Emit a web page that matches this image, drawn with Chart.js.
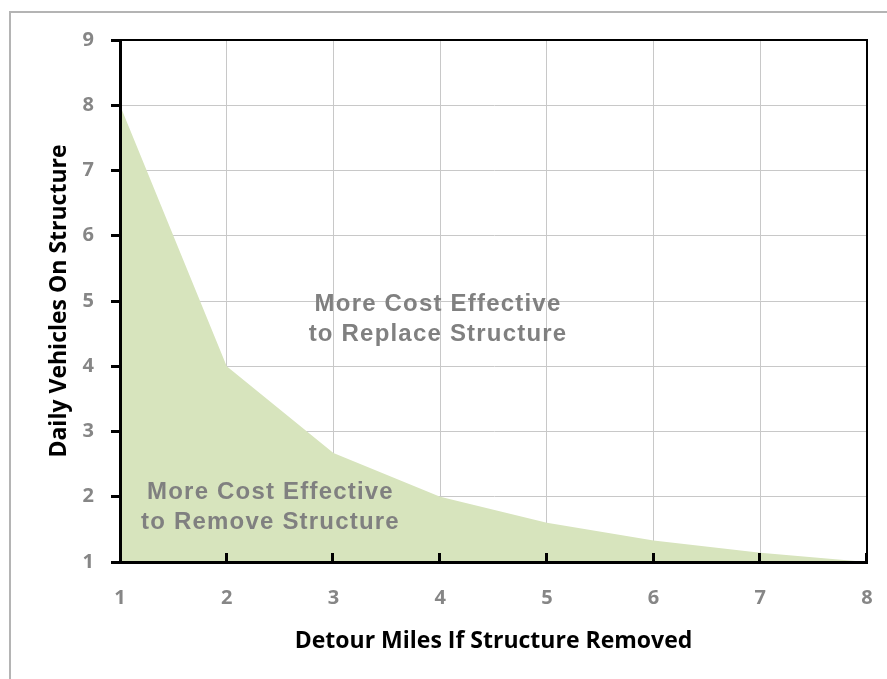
<!DOCTYPE html>
<html lang="en">
<head>
  <meta charset="UTF-8">
  <title>Detour Miles vs Daily Vehicles</title>
  <script src="https://cdn.jsdelivr.net/npm/chart.js"></script>
  <style>
    html, body {
      margin: 0;
      padding: 0;
      background: #fff;
    }
    .frame {
      position: absolute;
      left: 9px;
      top: 11px;
      width: 1000px;
      height: 800px;
      border-left: 2px solid #b4b4b4;
      border-top: 2px solid #b4b4b4;
    }
    .chart-box {
      position: relative;
      width: 887px;
      height: 679px;
      overflow: hidden;
    }
    #breakEven {
      position: absolute;
      left: 0;
      top: 0;
    }
  </style>
</head>
<body>
  <div class="chart-box">
    <div class="frame"></div>
    <canvas id="breakEven" width="887" height="679"></canvas>
  </div>

  <script>
    // detour distance (miles) and the break-even daily traffic
    const detourMiles = [1, 2, 3, 4, 5, 6, 7, 8];
    const dailyVehicles = [8, 4, 2.67, 2, 1.6, 1.33, 1.14, 1];

    const xTicks = [1, 2, 3, 4, 5, 6, 7, 8];
    const yTicks = [1, 2, 3, 4, 5, 6, 7, 8, 9];

    const xTitle = 'Detour Miles If Structure Removed';
    const yTitle = 'Daily Vehicles On Structure';

    const replaceText = ['More Cost Effective', 'to Replace Structure'];
    const removeText = ['More Cost Effective', 'to Remove Structure'];

    // where the two region labels sit, in axis units
    const notes = [
      { lines: replaceText, x: 3.98, y: 4.72 },
      { lines: removeText, x: 2.41, y: 1.83 }
    ];

    const tickGray = '#868686';
    const tickFont = { family: '"Open Sans"', size: 20, weight: 'bold' };

    // short tick marks pointing up into the plot, drawn over the fill
    const innerTicks = {
      id: 'innerTicks',
      afterDatasetsDraw(chart) {
        const { ctx, chartArea, scales } = chart;
        ctx.save();
        ctx.strokeStyle = '#000';
        ctx.lineWidth = 3;
        xTicks.slice(1).forEach(v => {
          const px = Math.round(scales.x.getPixelForValue(v)) - 0.5;
          ctx.beginPath();
          ctx.moveTo(px, chartArea.bottom);
          ctx.lineTo(px, chartArea.bottom - 9);
          ctx.stroke();
        });
        // top and right edges of the plot box
        ctx.lineWidth = 2;
        ctx.beginPath();
        ctx.moveTo(chartArea.left, chartArea.top);
        ctx.lineTo(chartArea.right, chartArea.top);
        ctx.lineTo(chartArea.right, chartArea.bottom);
        ctx.stroke();
        ctx.restore();
      }
    };

    const regionNotes = {
      id: 'regionNotes',
      afterDatasetsDraw(chart) {
        const { ctx, scales } = chart;
        ctx.save();
        ctx.font = 'bold 24px "Liberation Sans", Arial, sans-serif';
        ctx.fillStyle = '#808080';
        ctx.textAlign = 'center';
        ctx.textBaseline = 'middle';
        ctx.letterSpacing = '1.2px';
        notes.forEach(n => {
          const cx = scales.x.getPixelForValue(n.x);
          const cy = scales.y.getPixelForValue(n.y);
          const lh = 30;
          n.lines.forEach((t, i) => {
            ctx.fillText(t, cx, cy + (i - (n.lines.length - 1) / 2) * lh);
          });
        });
        ctx.restore();
      }
    };

    // axis titles, placed against the plot box
    const axisTitles = {
      id: 'axisTitles',
      afterDraw(chart) {
        const { ctx, chartArea } = chart;
        ctx.save();
        ctx.font = 'bold 23px "Open Sans", sans-serif';
        ctx.fillStyle = '#000';
        ctx.textAlign = 'center';
        ctx.textBaseline = 'middle';
        ctx.fillText(xTitle, (chartArea.left + chartArea.right) / 2, chartArea.bottom + 79);
        ctx.translate(59, (chartArea.top + chartArea.bottom) / 2);
        ctx.rotate(-Math.PI / 2);
        ctx.fillText(yTitle, 0, 0);
        ctx.restore();
      }
    };

    const ctx = document.getElementById('breakEven').getContext('2d');
    new Chart(ctx, {
      type: 'line',
      data: {
        datasets: [{
          data: detourMiles.map((m, i) => ({ x: m, y: dailyVehicles[i] })),
          backgroundColor: '#d7e4bd',
          borderWidth: 0,
          pointRadius: 0,
          fill: 'start',
          tension: 0
        }]
      },
      options: {
        responsive: false,
        animation: false,
        events: [],
        layout: {
          padding: { top: 40, right: 20, left: 0, bottom: 0 }
        },
        plugins: {
          legend: { display: false },
          tooltip: { enabled: false }
        },
        scales: {
          x: {
            type: 'linear',
            min: 1,
            max: 8,
            afterFit(scale) { scale.height = 117; },
            afterBuildTicks(scale) { scale.ticks = xTicks.map(v => ({ value: v })); },
            ticks: {
              color: tickGray,
              font: tickFont,
              padding: 4,
              maxRotation: 0
            },
            grid: {
              color: '#c8c8c8',
              lineWidth: 1,
              tickColor: 'rgba(0,0,0,0)',
              tickLength: 20
            },
            border: { color: '#000', width: 3, z: 1 }
          },
          y: {
            type: 'linear',
            min: 1,
            max: 9,
            afterFit(scale) { scale.width = 120; },
            afterBuildTicks(scale) { scale.ticks = yTicks.map(v => ({ value: v })); },
            ticks: {
              color: tickGray,
              font: tickFont,
              padding: 17
            },
            grid: {
              color: '#c8c8c8',
              lineWidth: 1,
              tickColor: '#000',
              tickWidth: 3,
              tickLength: 9
            },
            border: { color: '#000', width: 3, z: 1 }
          }
        }
      },
      plugins: [innerTicks, regionNotes, axisTitles]
    });
  </script>
</body>
</html>
